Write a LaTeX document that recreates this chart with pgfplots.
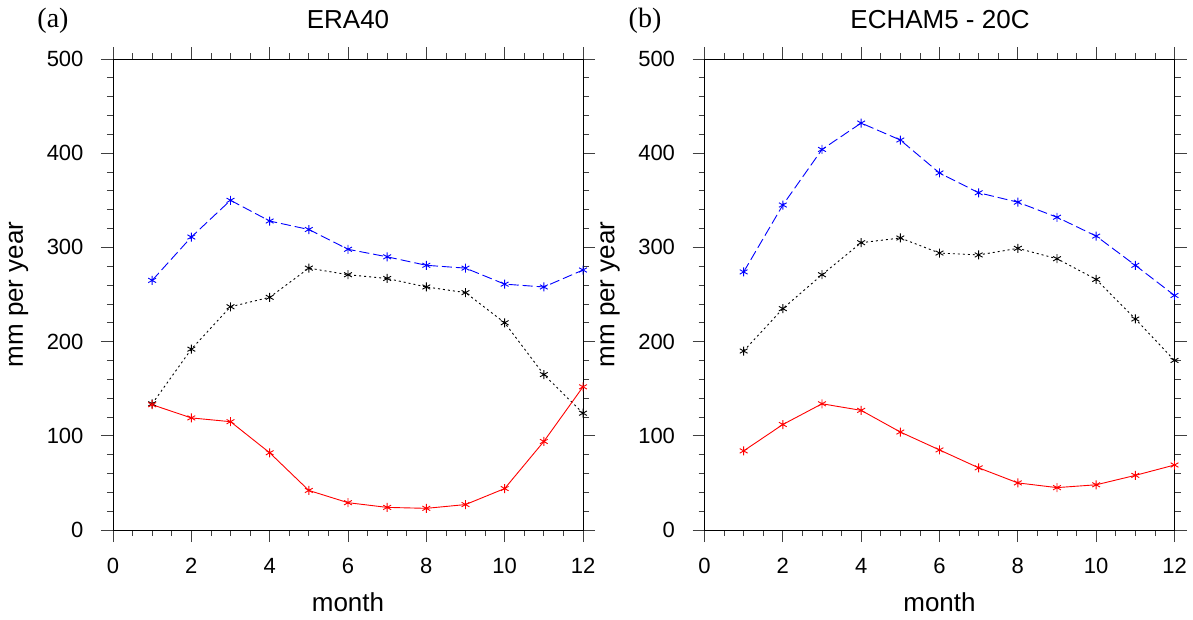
\documentclass[border=0pt]{standalone}
\usepackage{pgfplots}
\pgfplotsset{compat=1.18}
\usepackage{fontspec}
\setmainfont{Liberation Sans}
\newfontfamily\seriffont{Liberation Serif}
\pgfplotsset{
  ncl/.style={
    width=470pt, height=471pt, scale only axis,
    xmin=0, xmax=12, ymin=0, ymax=500,
    xtick={0,2,...,12}, ytick={0,100,...,500},
    minor x tick num=3, minor y tick num=4,
    tick align=outside,
    major tick length=12pt, minor tick length=6pt,
    tick style={line width=0.8pt, color=black!75},
    axis line style={line width=1pt},
    /pgf/number format/assume math mode=true,
    ticklabel style={font=\fontsize{22}{26}\selectfont},
    xticklabel style={yshift=-13pt},
    yticklabel style={xshift=-14pt},
    xlabel style={font=\fontsize{26}{30}\selectfont, at={(axis description cs:0.5,-0.172)}, anchor=base},
    ylabel style={font=\fontsize{26}{30}\selectfont, at={(axis description cs:-0.192,0.5)}, anchor=base, rotate=0},
    xlabel={month}, ylabel={mm\ per\ year},
    every axis plot/.append style={line width=0.9pt, mark=asterisk, mark size=4.5pt, mark options={solid}},
  }
}
\begin{document}
\begin{tikzpicture}
\useasboundingbox (0,0) rectangle (1193pt,619pt);
\begin{axis}[ncl, at={(113pt,89pt)}, anchor=south west]
\addplot[blue, dash pattern=on 10pt off 4pt] coordinates {
(1,265)(2,311)(3,350)(4,328)(5,319)(6,298)(7,290)(8,281)(9,278)(10,261)(11,258)(12,276)};
\addplot[black, dash pattern=on 2pt off 3pt] coordinates {
(1,134)(2,192)(3,237)(4,247)(5,278)(6,271)(7,267)(8,258)(9,252)(10,220)(11,165)(12,124)};
\addplot[red] coordinates {
(1,133)(2,119)(3,115)(4,82)(5,42)(6,29)(7,24)(8,23)(9,27)(10,44)(11,94)(12,152)};
\end{axis}
\begin{axis}[ncl, at={(704.5pt,89pt)}, anchor=south west]
\addplot[blue, dash pattern=on 10pt off 4pt] coordinates {
(1,274)(2,345)(3,404)(4,432)(5,414)(6,379)(7,358)(8,348)(9,332)(10,312)(11,281)(12,249)};
\addplot[black, dash pattern=on 2pt off 3pt] coordinates {
(1,190)(2,235)(3,271)(4,305)(5,310)(6,294)(7,292)(8,299)(9,288)(10,266)(11,224)(12,180)};
\addplot[red] coordinates {
(1,84)(2,112)(3,134)(4,127)(5,104)(6,85)(7,66)(8,50)(9,45)(10,48)(11,58)(12,69)};
\end{axis}
\node[anchor=base, font=\fontsize{26}{30}\selectfont] at (348pt,590pt) {ERA40};
\node[anchor=base, font=\fontsize{26}{30}\selectfont] at (940pt,590pt) {ECHAM5 - 20C};
\node[anchor=base, font=\seriffont\fontsize{28}{32}\selectfont] at (53pt,591pt) {(a)};
\node[anchor=base, font=\seriffont\fontsize{28}{32}\selectfont] at (645pt,591pt) {(b)};
\end{tikzpicture}
\end{document}
